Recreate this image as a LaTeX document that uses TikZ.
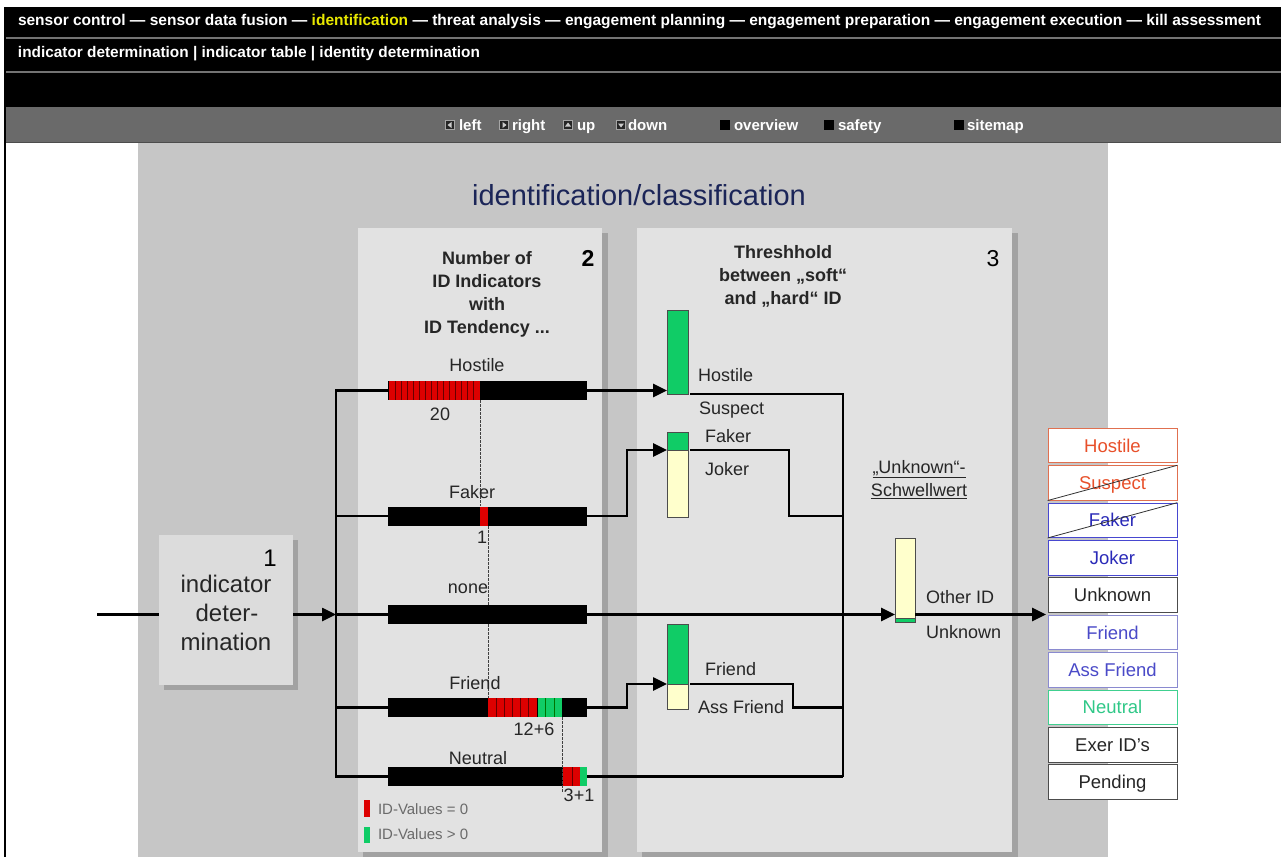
\documentclass[tikz,border=0pt]{standalone}
\usepackage{fontspec}
\setmainfont{Liberation Sans}
\usetikzlibrary{arrows.meta}
\newcommand{\FS}[1]{\fontsize{#1}{#1}\selectfont}
\definecolor{bgg}{HTML}{C6C6C6}
\definecolor{pan}{HTML}{E2E2E2}
\definecolor{boxc}{HTML}{DCDCDC}
\definecolor{shd}{HTML}{A2A2A2}
\definecolor{navg}{HTML}{6A6A6A}
\definecolor{ttl}{HTML}{1B2558}
\definecolor{rd}{HTML}{DD0000}
\definecolor{gn}{HTML}{10CC66}
\definecolor{cream}{HTML}{FFFFCC}
\definecolor{yel}{HTML}{E8E800}
\definecolor{hostc}{HTML}{E8502A}
\definecolor{hostb}{HTML}{E07050}
\definecolor{fakc}{HTML}{2A2AB8}
\definecolor{fakb}{HTML}{4848D0}
\definecolor{frc}{HTML}{4A4AC8}
\definecolor{frb}{HTML}{8A8AD0}
\definecolor{neuc}{HTML}{30C888}
\definecolor{neub}{HTML}{40D090}
\definecolor{dtxt}{HTML}{262626}
\definecolor{legt}{HTML}{6A6A6A}
\begin{document}
\begin{tikzpicture}[x=1pt,y=-1pt,
  txt/.style={inner sep=0pt, outer sep=0pt},
  navt/.style={txt, anchor=west, text=white, font=\bfseries\FS{15}, text height=11pt, text depth=0pt},
  navic/.style={draw=white!65!black, fill=black!85, minimum size=9pt, inner sep=0pt, line width=0.6pt},
  navsq/.style={fill=black, minimum size=10pt, inner sep=0pt},
  hdr/.style={txt, text=dtxt, font=\bfseries\FS{18}, text height=13pt, text depth=0pt},
  lbl/.style={txt, text=dtxt, font=\FS{18}, text height=13pt, text depth=0pt},
  big/.style={txt, font=\FS{24}, text height=17pt, text depth=0pt},
  bar/.style={fill=black, minimum width=199pt, minimum height=19pt, inner sep=0pt, outer sep=0pt},
  tb/.style={draw=black!70, line width=0.6pt, minimum width=21pt, inner sep=0pt, outer sep=0pt},
  conn/.style={line width=2.6pt, black},
  arr/.style={conn, -{Triangle[length=14pt,width=13pt]}},
  stripe/.style={line width=0.9pt, black!60!red},
  stripeg/.style={line width=0.9pt, black!55!green},
  dsh/.style={dashed, dash pattern=on 2.5pt off 1.5pt, line width=0.7pt, black!75},
  li/.style={minimum width=129pt, minimum height=34.5pt, inner sep=0pt, fill=white, line width=0.8pt, font=\FS{18.5}, text height=13pt, text depth=0pt}
]
\useasboundingbox (0,0) rectangle (1281,857);
\fill[white] (0,0) rectangle (1281,857);
% header bars
\fill[black] (5,7) rectangle (1281,107);
\draw[black!55, line width=1.5pt] (5,38) -- (1281,38);
\draw[black!55, line width=1.5pt] (5,72) -- (1281,72);
\fill[navg] (5,107) rectangle (1281,142);
\draw[black!70, line width=1pt] (5,142) -- (1281,142);
\fill[bgg] (138,143) rectangle (1108,857);
\draw[black, line width=1.5pt] (5,7) -- (5,857);
\node[txt, anchor=west, text=white] (menu1) at (18,21.5) {\resizebox{1243pt}{!}{\bfseries\FS{14}sensor control --- sensor data fusion --- \textcolor{yel}{identification} --- threat analysis --- engagement planning --- engagement preparation --- engagement execution --- kill assessment}};
\node[txt, anchor=west, text=white] (menu2) at (18,53.5) {\resizebox{462pt}{!}{\bfseries\FS{14}indicator determination | indicator table | identity determination}};
% nav
\node[navic] (icl) at (450,125) {};
\fill[white!80!black] (447.5,125) -- (451.5,122) -- (451.5,128) -- cycle;
\node[navt] (nl) at (459,125) {left};
\node[navic] (icr) at (504,125) {};
\fill[white!80!black] (506.5,125) -- (502.5,122) -- (502.5,128) -- cycle;
\node[navt] (nr) at (512,125) {right};
\node[navic] (icu) at (568,125) {};
\fill[white!80!black] (568,122.5) -- (565,126.5) -- (571,126.5) -- cycle;
\node[navt] (nu) at (577,125) {up};
\node[navic] (icd) at (621,125) {};
\fill[white!80!black] (621,127.5) -- (618,123.5) -- (624,123.5) -- cycle;
\node[navt] (nd) at (628,125) {down};
\node[navsq] (sqo) at (725,125) {};
\node[navt] (no) at (734,125) {overview};
\node[navsq] (sqs) at (829,125) {};
\node[navt] (ns) at (838,125) {safety};
\node[navsq] (sqm) at (959,125) {};
\node[navt] (nm) at (967,125) {sitemap};
% title
\node[txt, text=ttl, font=\FS{29}] (title) at (639,195) {identification/classification};
% panels
\fill[shd] (363,233) rectangle (608,857);
\fill[pan] (358,228) rectangle (602,852);
\fill[shd] (642,233) rectangle (1018,857);
\fill[pan] (637,228) rectangle (1012,852);
% box 1
\fill[shd] (164,540) rectangle (298,690);
\node[fill=boxc, minimum width=134pt, minimum height=150pt, inner sep=0pt] (box1) at (226,610) {};
\node[big, text=black] (n1) at (270,558) {1};
\node[big, text=dtxt] (bt1) at (226,584) {indicator};
\node[big, text=dtxt] (bt2) at (227,613) {deter-};
\node[big, text=dtxt] (bt3) at (226,642) {mination};
% panel 2 header
\node[hdr] (h2a) at (487,258) {Number of};
\node[hdr] (h2b) at (487,281) {ID Indicators};
\node[hdr] (h2c) at (487,304) {with};
\node[hdr] (h2d) at (487,327) {ID Tendency ...};
\node[big, font=\bfseries\FS{23}] (n2) at (588,258) {2};
% panel 3 header
\node[hdr] (h3a) at (783,252) {Threshhold};
\node[hdr] (h3b) at (783,275) {between „soft“};
\node[hdr] (h3c) at (783,298) {and „hard“ ID};
\node[big, font=\FS{23}] (n3) at (993,258) {3};
% bars
\node[bar] (bH) at (487.5,390.5) {};
\node[bar] (bF) at (487.5,516) {};
\node[bar] (b0) at (487.5,614.5) {};
\node[bar] (bFr) at (487.5,707.5) {};
\node[bar] (bN) at (487.5,776.5) {};
% coloured segments
\fill[rd] (389,381) rectangle (480,400);
\foreach \x in {395,401,...,477} \draw[stripe] (\x,381) -- (\x,400);
\fill[rd] (480,506.5) rectangle (488,525.5);
\fill[rd] (488,698) rectangle (537,717);
\foreach \x in {496,504,...,530} \draw[stripe] (\x,698) -- (\x,717);
\fill[gn] (537,698) rectangle (562,717);
\draw[line width=1pt, black] (537,698) -- (537,717);
\foreach \x in {545,554} \draw[stripeg] (\x,698) -- (\x,717);
\fill[rd] (563,767) rectangle (580,786);
\draw[stripe] (572,767) -- (572,786);
\fill[gn] (580,767) rectangle (587,786);
% dashed
\draw[dsh] (480,400) -- (480,506);
\draw[dsh] (488,526) -- (488,605);
\draw[dsh] (488,624) -- (488,698);
\draw[dsh] (562,717) -- (562,792);
% bar labels
\node[lbl] (lH) at (477,365) {Hostile};
\node[lbl] (l20) at (440,414) {20};
\node[lbl] (lF) at (472,492) {Faker};
\node[lbl] (l1) at (482,537) {1};
\node[lbl] (l0) at (468,587) {none};
\node[lbl] (lFr) at (475,683) {Friend};
\node[lbl] (l126) at (534,729) {12+6};
\node[lbl] (lN) at (478,758) {Neutral};
\node[lbl] (l31) at (579,795) {3+1};
% legend
\fill[rd] (364,800) rectangle (370,817);
\fill[gn] (364,827) rectangle (370,843);
\node[txt, anchor=west, text=legt, font=\FS{15}, text height=11pt, text depth=0pt] (lg1) at (378,809) {ID-Values = 0};
\node[txt, anchor=west, text=legt, font=\FS{15}, text height=11pt, text depth=0pt] (lg2) at (378,834) {ID-Values > 0};
% threshold bars
\node[tb, fill=gn, minimum height=84pt] (tH) at (677.5,352) {};
\node[tb, fill=gn, minimum height=18pt] (tFg) at (677.5,441) {};
\node[tb, fill=cream, minimum height=67pt] (tFc) at (677.5,483.5) {};
\node[tb, fill=gn, minimum height=60pt] (tFrg) at (677.5,654) {};
\node[tb, fill=cream, minimum height=25pt] (tFrc) at (677.5,696.5) {};
\node[tb, fill=cream, minimum height=80pt, minimum width=20pt] (tUc) at (905,578) {};
\node[tb, fill=gn, minimum height=4pt, minimum width=20pt] (tUg) at (905,620) {};
% panel 3 labels
\node[lbl, anchor=west] (pHo) at (698,375) {Hostile};
\node[lbl, anchor=west] (pSu) at (699,408) {Suspect};
\node[lbl, anchor=west] (pFa) at (705,436) {Faker};
\node[lbl, anchor=west] (pJo) at (705,469) {Joker};
\node[lbl, anchor=west] (pFr) at (705,669) {Friend};
\node[lbl, anchor=west] (pAF) at (698,707) {Ass Friend};
\node[lbl] (pUk1) at (919,467) {\underline{„Unknown“-}};
\node[lbl] (pUk2) at (919,490) {\underline{Schwellwert}};
\node[lbl, anchor=west] (pOt) at (926,597) {Other ID};
\node[lbl, anchor=west] (pUn) at (926,632) {Unknown};
% connectors
\coordinate (in) at (97,614.5);
\coordinate (bus) at (336,614.5);
\coordinate (jN) at (843,776.5);
\coordinate (out) at (1046,614.5);
\draw[conn] (in) -- (box1.west |- in);
\draw[arr] (box1.east |- b0) -- (bus |- b0);
\draw[conn] (bH.west) -- (bus |- bH) -- (bus |- bN) -- (bN.west);
\draw[conn] (bF.west) -- (bus |- bF);
\draw[conn] (b0.west) -- (bus |- b0);
\draw[conn] (bFr.west) -- (bus |- bFr);
\draw[arr] (bH.east) -- (tH.west |- bH);
\draw[arr] (bF.east) -- ++(40,0) |- (tFg.south west);
\draw[arr] (bFr.east) -- ++(40,0) |- (tFrg.south west);
\draw[arr] (b0.east) -- (tUc.west |- b0);
\draw[arr] (tUc.east |- b0) -- (out);
\draw[conn] (bN.east) -- (jN);
\draw[conn, shorten <=2pt] (tH.south east) -- (jN |- tH.south east) -- (jN);
\draw[conn, shorten <=2pt] (tFg.south east) -- ++(101,0) |- (jN |- bF);
\draw[conn, shorten <=2pt] (tFrg.south east) -- ++(105,0) |- (jN |- bFr);
% result list
\node[li, draw=hostb, text=hostc] (rHo) at (1112.5,445.5) {Hostile};
\node[li, draw=hostb, text=hostc] (rSu) at (1112.5,482.9) {Suspect};
\node[li, draw=fakb, text=fakc] (rFa) at (1112.5,520.3) {Faker};
\node[li, draw=fakb, text=fakc] (rJo) at (1112.5,557.7) {Joker};
\node[li, draw=black!70, text=dtxt] (rUn) at (1112.5,595.1) {Unknown};
\node[li, draw=frb, text=frc] (rFr) at (1112.5,632.5) {Friend};
\node[li, draw=frb, text=frc] (rAF) at (1112.5,669.9) {Ass Friend};
\node[li, draw=neub, text=neuc] (rNe) at (1112.5,707.3) {Neutral};
\node[li, draw=black!70, text=dtxt] (rEx) at (1112.5,744.7) {Exer ID's};
\node[li, draw=black!70, text=dtxt] (rPe) at (1112.5,782.1) {Pending};
\draw[line width=0.8pt, black!80] (rSu.south west) -- (rSu.north east);
\draw[line width=0.8pt, black!80] (rFa.south west) -- (rFa.north east);
\end{tikzpicture}
\end{document}
